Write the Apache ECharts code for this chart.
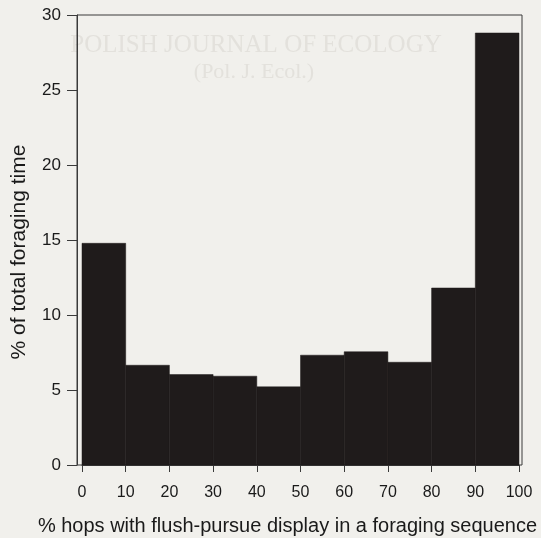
<!DOCTYPE html>
<html>
<head>
<meta charset="utf-8">
<script src="https://cdn.jsdelivr.net/npm/echarts@6/dist/echarts.min.js"></script>
<style>
  html, body { margin: 0; padding: 0; background: #f1f0ec; }
  #chart { width: 541px; height: 538px; }
</style>
</head>
<body>
<div id="chart"></div>
<script>
// histogram bins (% hops with flush-pursue display)
const binStarts = [0, 10, 20, 30, 40, 50, 60, 70, 80, 90];
const binEnds = [10, 20, 30, 40, 50, 60, 70, 80, 90, 100];
// % of total foraging time
const foragingTime = [14.78, 6.65, 6.03, 5.92, 5.21, 7.32, 7.55, 6.85, 11.8, 28.8];

const histData = binStarts.map((s, i) => [s, binEnds[i], foragingTime[i]]);

const chart = echarts.init(document.getElementById("chart"));
const font = "Liberation Sans, Arial, sans-serif";

chart.setOption({
  backgroundColor: "#f1f0ec",
  animation: false,
  // faint bleed-through from the scanned page behind
  graphic: [
    {
      type: "text",
      z: -10,
      style: {
        x: 256, y: 45, text: "POLISH JOURNAL OF ECOLOGY",
        font: "25px 'Liberation Serif', serif", fill: "#e3e1dc",
        textAlign: "center", textVerticalAlign: "middle"
      }
    },
    {
      type: "text",
      z: -10,
      style: {
        x: 254, y: 72, text: "(Pol. J. Ecol.)",
        font: "22px 'Liberation Serif', serif", fill: "#e3e1dc",
        textAlign: "center", textVerticalAlign: "middle"
      }
    }
  ],
  grid: [
    // bars: 0..100 runs from x=82 to x=519
    { left: 82, right: 22, top: 15, bottom: 73, outerBoundsMode: "none", containLabel: false },
    // frame box and y axis, a little wider than the bars
    {
      left: 77, right: 19, top: 15, bottom: 73, outerBoundsMode: "none", containLabel: false,
      show: true, borderColor: "#3a3a3a", borderWidth: 1, backgroundColor: "transparent"
    }
  ],
  xAxis: [
    {
      type: "value",
      gridIndex: 0,
      min: 0,
      max: 100,
      interval: 10,
      name: "% hops with flush-pursue display in a foraging sequence",
      nameLocation: "middle",
      nameGap: 51,
      nameTextStyle: { fontSize: 20, color: "#1a1a1a", fontFamily: font, padding: [0, 26, 0, 0] },
      axisLine: { show: true, onZero: false, lineStyle: { color: "#3a3a3a", width: 1 } },
      axisTick: { show: true, length: 7, lineStyle: { color: "#3a3a3a" } },
      axisLabel: { fontSize: 16, color: "#1a1a1a", fontFamily: font, margin: 20 },
      splitLine: { show: false }
    },
    { type: "value", gridIndex: 1, min: 0, max: 1, show: false }
  ],
  yAxis: [
    { type: "value", gridIndex: 0, min: 0, max: 30, show: false },
    {
      type: "value",
      gridIndex: 1,
      min: 0,
      max: 30,
      interval: 5,
      name: "% of total foraging time",
      nameLocation: "middle",
      nameGap: 47,
      nameTextStyle: { fontSize: 21, color: "#1a1a1a", fontFamily: font, padding: [0, 24, 0, 0] },
      axisLine: { show: true, lineStyle: { color: "#3a3a3a", width: 1 } },
      axisTick: { show: true, length: 10, lineStyle: { color: "#3a3a3a" } },
      axisLabel: { fontSize: 17, color: "#1a1a1a", fontFamily: font, margin: 16 },
      splitLine: { show: false }
    }
  ],
  series: [
    {
      type: "custom",
      xAxisIndex: 0,
      yAxisIndex: 0,
      renderItem: function (params, api) {
        const topLeft = api.coord([api.value(0), api.value(2)]);
        const bottomRight = api.coord([api.value(1), 0]);
        return {
          type: "rect",
          shape: {
            x: topLeft[0],
            y: topLeft[1],
            width: bottomRight[0] - topLeft[0],
            height: bottomRight[1] - topLeft[1]
          },
          style: { fill: "#1f1b1b", stroke: "#1f1b1b", lineWidth: 0.5 }
        };
      },
      encode: { x: [0, 1], y: 2 },
      data: histData
    }
  ]
});
</script>
</body>
</html>
